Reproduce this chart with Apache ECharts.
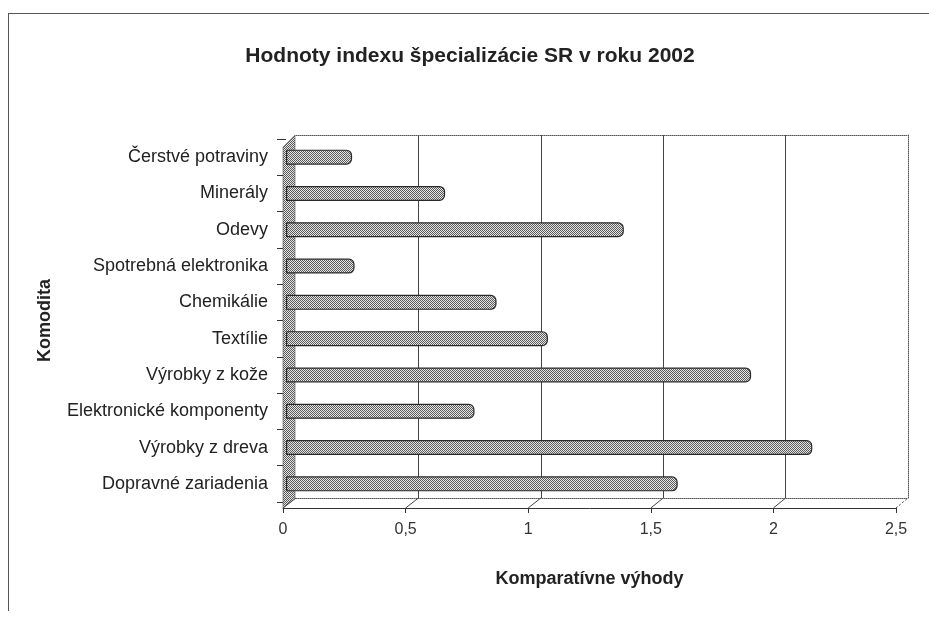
<!DOCTYPE html>
<html>
<head>
<meta charset="utf-8">
<script src="https://cdn.jsdelivr.net/npm/echarts@6/dist/echarts.min.js"></script>
<style>
  html, body { margin: 0; padding: 0; background: #fff; }
  #chart { position: absolute; left: 0; top: 0; width: 929px; height: 617px; }
  #frame { position: absolute; left: 8px; top: 13px; width: 930px; height: 597px;
    border-left: 1px solid #555; border-top: 1px solid #555; pointer-events: none; }
</style>
</head>
<body>
<div id="chart"></div>
<div id="frame"></div>
<script>
// kategórie zhora nadol
const categories = [
  'Čerstvé potraviny',
  'Minerály',
  'Odevy',
  'Spotrebná elektronika',
  'Chemikálie',
  'Textílie',
  'Výrobky z kože',
  'Elektronické komponenty',
  'Výrobky z dreva',
  'Dopravné zariadenia'
]
const values = [0.27, 0.65, 1.38, 0.28, 0.86, 1.07, 1.90, 0.77, 2.15, 1.60]
const xTicks = [0, 0.5, 1, 1.5, 2, 2.5]

// rastrová výplň ako na skenovanom grafe
const makePattern = () => {
  const c = document.createElement('canvas')
  c.width = 2
  c.height = 2
  const ctx = c.getContext('2d')
  ctx.fillStyle = '#e6e6e6'
  ctx.fillRect(0, 0, 2, 2)
  ctx.fillStyle = '#5a5a5a'
  ctx.fillRect(0, 0, 1, 1)
  ctx.fillRect(1, 1, 1, 1)
  return { image: c, repeat: 'repeat' }
}
const pattern = makePattern()

const chart = echarts.init(document.getElementById('chart'), null, { renderer: 'canvas' })
const font = 'Liberation Sans, Arial, sans-serif'
const hidden = { axisLine: { show: false }, axisTick: { show: false }, axisLabel: { show: false }, splitLine: { show: false } }
const dotted = { show: true, onZero: false, lineStyle: { color: '#555', type: 'dotted', width: 1 } }

const option = {
  animation: false,
  title: {
    text: 'Hodnoty indexu špecializácie SR v roku 2002',
    left: 465,
    textAlign: 'center',
    top: 41,
    textStyle: { fontFamily: font, fontSize: 21, fontWeight: 'bold', color: '#222' }
  },
  grid: [
    // pruhy
    { left: 286, right: 31, top: 139, bottom: 115 },
    // zadná stena
    { left: 296, right: 21, top: 135, bottom: 119 },
    // predná os
    { left: 283, right: 33, top: 145, bottom: 109 }
  ],
  xAxis: [
    {
      type: 'value', gridIndex: 0, min: 0, max: 2.5, ...hidden
    },
    {
      type: 'value', gridIndex: 1, min: 0, max: 2.5, interval: 0.5,
      axisLine: dotted,
      axisTick: { show: false },
      axisLabel: { show: false },
      splitLine: { show: true, showMinLine: false, showMaxLine: false, lineStyle: { color: '#444', width: 1 } }
    },
    {
      type: 'value', gridIndex: 1, position: 'top', min: 0, max: 2.5,
      axisLine: dotted, axisTick: { show: false }, axisLabel: { show: false }, splitLine: { show: false }
    },
    {
      type: 'value', gridIndex: 2, min: 0, max: 2.5, interval: 0.5,
      name: 'Komparatívne výhody',
      nameLocation: 'middle',
      nameGap: 62,
      nameTextStyle: { fontFamily: font, fontSize: 18, fontWeight: 'bold', color: '#222' },
      axisLine: { show: true, onZero: false, lineStyle: { color: '#333', width: 1 } },
      axisTick: { show: true, length: 5, lineStyle: { color: '#333' } },
      axisLabel: {
        fontFamily: font, fontSize: 16, color: '#333', margin: 14,
        formatter: v => String(v).replace('.', ',')
      },
      splitLine: { show: false }
    }
  ],
  yAxis: [
    {
      type: 'category',
      gridIndex: 0,
      data: categories,
      inverse: true,
      name: 'Komodita',
      nameLocation: 'middle',
      nameRotate: 90,
      nameGap: 232,
      nameTextStyle: { fontFamily: font, fontSize: 18, fontWeight: 'bold', color: '#222' },
      axisLine: { show: false },
      axisTick: { show: true, length: 9, lineStyle: { color: '#333' } },
      axisLabel: { fontFamily: font, fontSize: 18, color: '#222', margin: 18 }
    },
    {
      type: 'value', gridIndex: 1, position: 'right', min: 0, max: 1,
      axisLine: dotted, axisTick: { show: false }, axisLabel: { show: false }, splitLine: { show: false }
    },
    {
      type: 'value', gridIndex: 2, min: 0, max: 1, ...hidden
    }
  ],
  series: [
    { type: 'scatter', xAxisIndex: 1, yAxisIndex: 1, data: [], silent: true },
    { type: 'scatter', xAxisIndex: 3, yAxisIndex: 2, data: [], silent: true },
    {
      type: 'bar',
      xAxisIndex: 0,
      yAxisIndex: 0,
      data: values,
      barWidth: 15,
      z: 5,
      itemStyle: {
        color: pattern,
        borderColor: '#2a2a2a',
        borderWidth: 1.2,
        borderRadius: [0, 5, 5, 0]
      }
    }
  ]
}

chart.setOption(option)

// 3D dekorácia: ľavá stena a šikmé spojnice prednej osi so zadnou stenou
const rectOf = i => chart.getModel().getComponent('grid', i).coordinateSystem.getRect()
const back = rectOf(1)
const front = rectOf(2)
const frontBottom = front.y + front.height
const backBottom = back.y + back.height
const graphics = [
  {
    type: 'polygon',
    z: 3,
    shape: {
      points: [
        [front.x, front.y + 2],
        [back.x - 1, back.y],
        [back.x - 1, backBottom],
        [front.x, frontBottom]
      ]
    },
    style: { fill: pattern, stroke: '#555', lineWidth: 0.6 }
  }
]
xTicks.forEach(t => {
  const xf = chart.convertToPixel({ xAxisIndex: 3 }, t)
  const xb = chart.convertToPixel({ xAxisIndex: 1 }, t)
  graphics.push({
    type: 'line',
    z: 4,
    shape: { x1: xf, y1: frontBottom, x2: xb, y2: backBottom },
    style: { stroke: '#444', lineWidth: 1, lineDash: t === 2.5 ? [2, 2] : null }
  })
})
chart.setOption({ graphic: graphics })
</script>
</body>
</html>
